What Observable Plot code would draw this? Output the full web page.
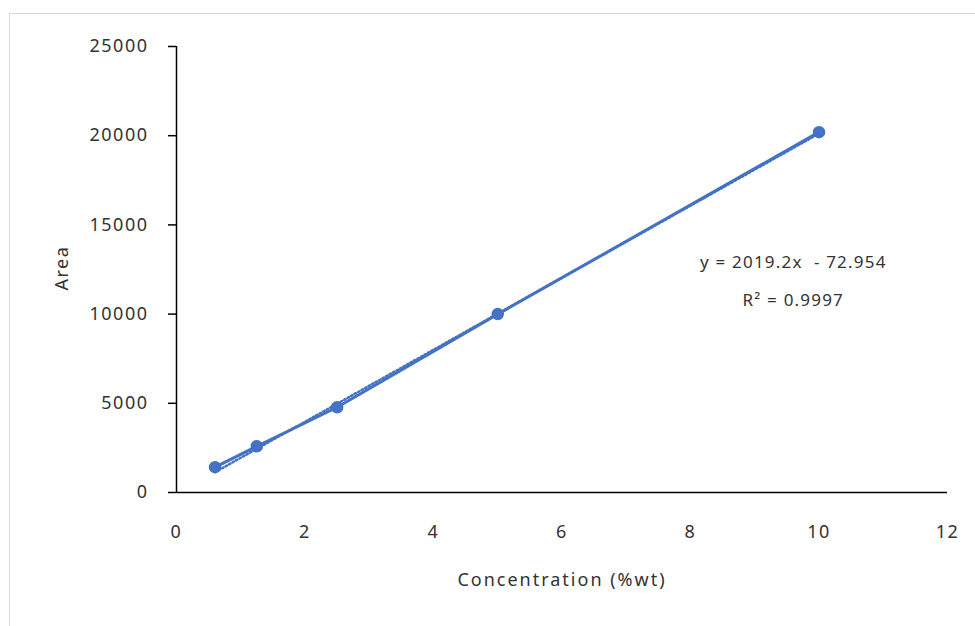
<!DOCTYPE html>
<html>
<head>
<meta charset="utf-8">
<script src="https://cdn.jsdelivr.net/npm/d3@7"></script>
<script src="https://cdn.jsdelivr.net/npm/@observablehq/plot@0.6"></script>
<style>
  html, body { margin: 0; padding: 0; background: #fff; }
  #wrap { position: relative; width: 975px; height: 626px; overflow: hidden; }
  #frame { position: absolute; left: 9px; top: 13px; width: 1000px; height: 700px;
           border-left: 1.5px solid #d9d9d9; border-top: 1.5px solid #d9d9d9; box-sizing: border-box; }
  #chart { position: absolute; left: 0; top: 0; }
  #chart g[aria-label="y-axis tick label"] text,
  #chart g[aria-label="x-axis tick label"] text { letter-spacing: 1.5px; }
</style>
</head>
<body>
<div id="wrap"><div id="frame"></div><div id="chart"></div></div>
<script>
// Data
const concentration = [0.6, 1.25, 2.5, 5, 10];
const area = [1420, 2590, 4780, 10000, 20200];
const xTicks = [0, 2, 4, 6, 8, 10, 12];
const yTicks = [0, 5000, 10000, 15000, 20000, 25000];
const slope = 2019.2;
const intercept = -72.954;
const rSquared = 0.9997;
const xTitle = "Concentration (%wt)";
const yTitle = "Area";
const equationText = "y = 2019.2x  - 72.954";
const r2Text = "R² = 0.9997";

const points = concentration.map((c, i) => ({x: c, y: area[i]}));
const xMin = d3.min(concentration), xMax = d3.max(concentration);
const trend = [xMin, xMax].map(x => ({x, y: slope * x + intercept}));

const blue = "#4472C4";
const textColor = "#333333";

const chart = Plot.plot({
  width: 975,
  height: 626,
  marginLeft: 176,
  marginRight: 28,
  marginTop: 46,
  marginBottom: 134,
  style: {fontFamily: "'Noto Sans', sans-serif", fontSize: "18px", color: textColor, background: "transparent"},
  x: {domain: [0, 12], ticks: xTicks, label: null},
  y: {domain: [0, 25000], ticks: yTicks, label: null},
  marks: [
    Plot.axisY({ticks: yTicks, tickSize: 8, tickPadding: 20, stroke: "#000", strokeWidth: 1.5, fill: textColor, fontSize: 18, tickFormat: d => String(d), label: null}),
    Plot.axisX({ticks: xTicks, tickSize: 0, tickPadding: 33, fill: textColor, fontSize: 18, tickFormat: d => String(d), label: null}),
    Plot.ruleX([0], {stroke: "#000", strokeWidth: 1.5}),
    Plot.ruleY([0], {stroke: "#000", strokeWidth: 1.5}),
    Plot.line(trend, {x: "x", y: "y", stroke: blue, strokeWidth: 2.5, strokeDasharray: "1.5,2.5"}),
    Plot.line(points, {x: "x", y: "y", stroke: blue, strokeWidth: 3}),
    Plot.dot(points, {x: "x", y: "y", r: 5.5, fill: blue, stroke: blue}),
    Plot.text([equationText], {x: 9.6, y: 12900, fill: textColor, fontSize: 17}),
    Plot.text([r2Text], {x: 9.6, y: 10760, fill: textColor, fontSize: 17}),
    Plot.text([xTitle], {frameAnchor: "bottom", dy: 93, fill: textColor, fontSize: 18}),
    Plot.text([yTitle], {frameAnchor: "left", dx: -114, dy: 21, rotate: -90, fill: textColor, fontSize: 18})
  ]
});
// letter spacing for the annotation/title texts (equation, R², x title, y title)
const spacings = [1.2, 1.2, 2, 1.5];
d3.select(chart).selectAll('g[aria-label="text"]').each(function(_, i) {
  d3.select(this).selectAll("text").style("letter-spacing", spacings[i] + "px");
});
document.getElementById("chart").appendChild(chart);
</script>
</body>
</html>
